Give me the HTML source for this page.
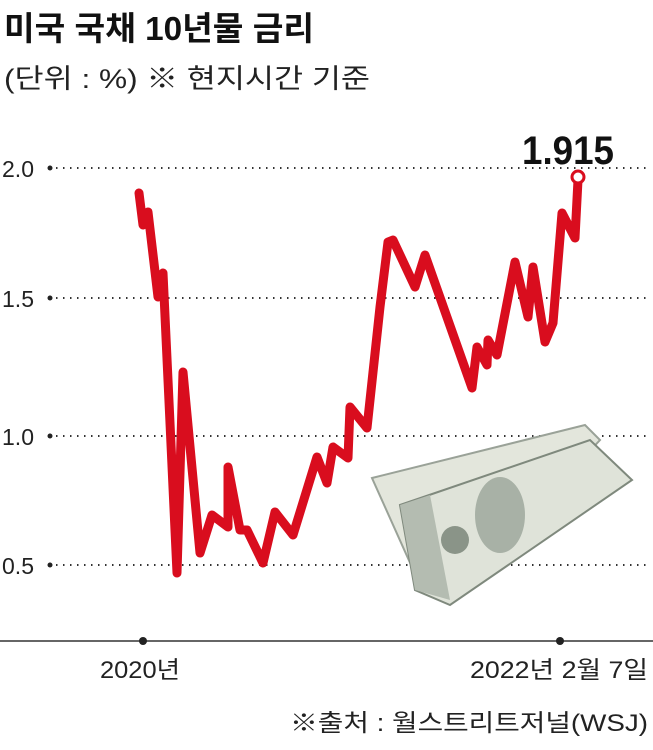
<!DOCTYPE html>
<html><head><meta charset="utf-8"><style>
body{margin:0;background:#fff;}
svg text{font-family:"Liberation Sans","Noto Sans CJK KR",sans-serif;}
</style></head><body>
<svg width="653" height="745" viewBox="0 0 653 745" xmlns="http://www.w3.org/2000/svg">
<rect width="653" height="745" fill="#fff"/>
<text x="4" y="40" font-size="33" font-weight="bold" fill="#111" textLength="310" lengthAdjust="spacingAndGlyphs">미국 국채 10년물 금리</text>
<text x="4" y="88" font-size="27" fill="#222" textLength="366" lengthAdjust="spacingAndGlyphs">(단위 : %)  ※ 현지시간 기준</text>
<g stroke="#333" stroke-width="2" stroke-dasharray="1.5 5.5" fill="none">
<line x1="56" y1="168" x2="648" y2="168"/>
<line x1="56" y1="298" x2="648" y2="298"/>
<line x1="56" y1="436" x2="648" y2="436"/>
<line x1="56" y1="565" x2="648" y2="565"/>
</g>
<g fill="#222"><circle cx="50" cy="168" r="2.5"/><circle cx="50" cy="298" r="2.5"/><circle cx="50" cy="436" r="2.5"/><circle cx="50" cy="565" r="2.5"/></g>
<g font-size="23" fill="#222">
<text x="2" y="177" textLength="32" lengthAdjust="spacingAndGlyphs">2.0</text><text x="2" y="307" textLength="32" lengthAdjust="spacingAndGlyphs">1.5</text><text x="2" y="445" textLength="32" lengthAdjust="spacingAndGlyphs">1.0</text><text x="2" y="574" textLength="32" lengthAdjust="spacingAndGlyphs">0.5</text>
</g>
<!-- money -->
<g>
<polygon points="372,478 585,425 600,440 450,600 420,585" fill="#e3e6dc" stroke="#9aa298" stroke-width="2"/>
<polygon points="400,505 590,440 632,480 450,605 415,590" fill="#dfe3d9" stroke="#7f897d" stroke-width="2"/>
<ellipse cx="500" cy="515" rx="25" ry="38" fill="#a8b1a6"/>
<ellipse cx="455" cy="540" rx="14" ry="14" fill="#8a9488"/>
<polygon points="400,505 430,495 450,600 415,590" fill="#b4bcb1"/>
</g>
<polyline fill="none" stroke="#d90d1e" stroke-width="9" stroke-linejoin="round" stroke-linecap="round" points="139,193 143,225 148,212 158,297 163,273 177,573 183,372 200,553 212,515 228,527 228,467 240,530 247,530 263,563 275,512 293,535 317,457 327,483 333,447 348,458 350,407 367,428 380,307 388,242 393,240 415,287 425,255 472,388 477,347 487,365 488,340 497,355 515,262 528,317 533,267 545,342 553,323 562,213 575,238 578,180"/>
<circle cx="578" cy="177" r="6" fill="#fff" stroke="#d90d1e" stroke-width="3"/>
<text x="522" y="164" font-size="40" font-weight="bold" fill="#111" textLength="92" lengthAdjust="spacingAndGlyphs">1.915</text>
<line x1="0" y1="641" x2="653" y2="641" stroke="#333" stroke-width="1.5"/>
<circle cx="143" cy="641" r="4" fill="#222"/><circle cx="560" cy="641" r="4" fill="#222"/>
<g font-size="24" fill="#222">
<text x="100" y="678" textLength="80" lengthAdjust="spacingAndGlyphs">2020년</text>
<text x="470" y="678" textLength="178" lengthAdjust="spacingAndGlyphs">2022년 2월 7일</text>
<text x="290" y="731" textLength="358" lengthAdjust="spacingAndGlyphs">※출처 : 월스트리트저널(WSJ)</text>
</g>
</svg>
</body></html>
